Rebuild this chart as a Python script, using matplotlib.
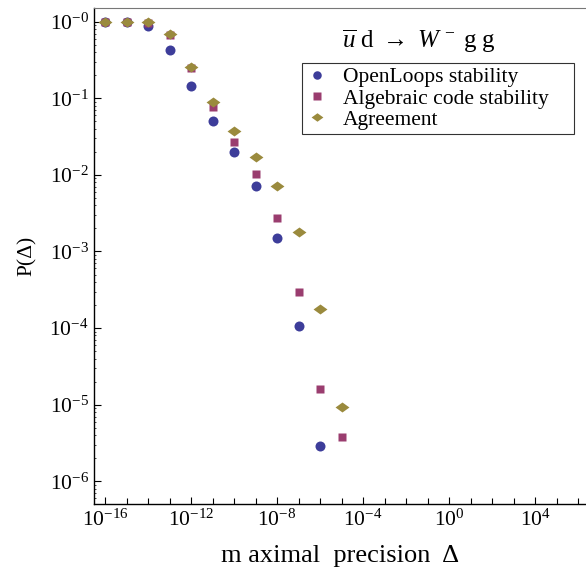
import matplotlib
matplotlib.use("Agg")
import matplotlib.pyplot as plt
import numpy as np
from matplotlib.path import Path
from matplotlib.ticker import FixedLocator, FixedFormatter, LogLocator, NullFormatter

# precision bins (log10 of Delta)
log_delta = [-16, -15, -14, -13, -12, -11, -10, -9, -8, -7, -6, -5]

# OpenLoops stability
p_openloops = [0.98, 0.98, 0.87, 0.43, 0.145, 0.051, 0.020, 0.0071, 0.0015, 1.05e-4, 2.9e-6]
# Algebraic code stability
p_algebraic = [0.99, 0.99, 0.97, 0.68, 0.25, 0.078, 0.027, 0.0102, 0.0027, 2.94e-4, 1.6e-5, 3.8e-6]
# Agreement
p_agreement = [0.99, 0.99, 0.98, 0.70, 0.26, 0.089, 0.037, 0.0172, 0.0071, 0.0018, 1.8e-4, 9.3e-6]

plt.rcParams['font.family'] = ['Liberation Serif', 'DejaVu Serif']
plt.rcParams['mathtext.fontset'] = 'custom'
plt.rcParams['mathtext.rm'] = 'Liberation Serif'
plt.rcParams['mathtext.it'] = 'Liberation Serif:italic'

BLUE = '#3d3d9a'
MAGENTA = '#9a3d6f'
OLIVE = '#9a8a3d'

# flat diamond like the Mathematica one
diamond = Path([(-1, 0), (0, 0.72), (1, 0), (0, -0.72), (-1, 0)],
               [Path.MOVETO, Path.LINETO, Path.LINETO, Path.LINETO, Path.CLOSEPOLY])

fig = plt.figure(figsize=(5.86, 5.71), dpi=100)
ax = fig.add_axes([0.161, 0.117, 0.839, 0.869])

x = 10.0 ** np.array(log_delta)
ax.plot(x[:len(p_openloops)], p_openloops, 'o', color=BLUE, ms=7.2, mec='none',
        label='OpenLoops stability')
ax.plot(x[:len(p_algebraic)], p_algebraic, 's', color=MAGENTA, ms=6.0, mec='none',
        label='Algebraic code stability    ')
ax.plot(x[:len(p_agreement)], p_agreement, marker=diamond, ls='none', color=OLIVE,
        ms=10, mec='none', label='Agreement')

ax.set_xscale('log')
ax.set_yscale('log')
ax.set_xlim(10 ** -16.5, 10 ** 6.37)
ax.set_ylim(10 ** -6.3, 10 ** 0.18)

xmaj = [1e-16, 1e-12, 1e-8, 1e-4, 1e0, 1e4]
ax.xaxis.set_major_locator(FixedLocator(xmaj))
ax.xaxis.set_major_formatter(FixedFormatter([r'$10^{-16}$', r'$10^{-12}$', r'$10^{-8}$',
                                             r'$10^{-4}$', r'$10^{0}$', r'$10^{4}$']))
ax.xaxis.set_minor_locator(FixedLocator([10.0 ** k for k in range(-17, 7)]))
ax.xaxis.set_minor_formatter(NullFormatter())

ymaj = [10.0 ** -k for k in range(0, 7)]
ax.yaxis.set_major_locator(FixedLocator(ymaj))
ax.yaxis.set_major_formatter(FixedFormatter([r'$10^{-%d}$' % k for k in range(0, 7)]))
ax.yaxis.set_minor_locator(LogLocator(base=10, subs=np.arange(2, 10), numticks=20))
ax.yaxis.set_minor_formatter(NullFormatter())

ax.tick_params(which='major', direction='in', length=5, width=0.8, labelsize=15.5,
               top=False, right=False, pad=4)
ax.tick_params(axis='x', which='minor', direction='in', length=4, width=0.8, top=False)
ax.tick_params(axis='y', which='minor', direction='in', length=1.5, width=0.5, right=False)

ax.spines['right'].set_visible(False)
ax.spines['top'].set_color('#777777')
ax.spines['left'].set_linewidth(1.0)
ax.spines['bottom'].set_linewidth(1.0)

ax.set_xlabel('m aximal  precision  Δ', fontsize=19, labelpad=10)
ax.set_ylabel('P(Δ)', fontsize=15.5, labelpad=9)

ax.text(0.66, 0.933, r'$\overline{u}\ \mathrm{d}\ \rightarrow\ W^{\,-}\ \mathrm{g\ g}$',
        transform=ax.transAxes, fontsize=18, ha='center', va='center')

leg = ax.legend(loc='upper left', bbox_to_anchor=(0.422, 0.889), fontsize=15.5,
                frameon=True, fancybox=False, edgecolor='black', borderpad=0.2,
                handletextpad=0.7, labelspacing=0.05, handlelength=1.0,
                borderaxespad=0, markerscale=0.85)
leg.get_frame().set_linewidth(0.8)

fig.savefig('out.png', dpi=100)
